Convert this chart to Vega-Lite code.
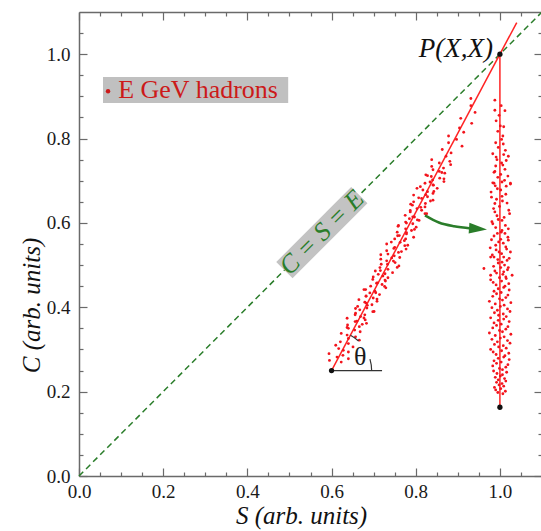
{
  "$schema": "https://vega.github.io/schema/vega-lite/v6.json",
  "width": 463,
  "height": 464,
  "autosize": "none",
  "padding": {"left": 79, "top": 12, "right": 0, "bottom": 55},
  "background": "white",
  "config": {
    "view": {"stroke": null},
    "axis": {
      "grid": false,
      "domainColor": "#6a6a6a",
      "domainWidth": 1.5,
      "tickColor": "#6a6a6a",
      "tickWidth": 1.2,
      "labelFont": "Liberation Serif",
      "labelFontSize": 19,
      "labelFontWeight": "normal",
      "labelColor": "#1a1a1a",
      "labelOverlap": false,
      "labelFlush": false,
      "titleFont": "Liberation Serif",
      "titleFontStyle": "italic",
      "titleFontWeight": "normal",
      "titleFontSize": 25,
      "titleColor": "#111111"
    }
  },
  "datasets": {
    "incl": [
      {"x":0.623,"y":0.270},{"x":0.595,"y":0.274},{"x":0.640,"y":0.278},{"x":0.613,"y":0.282},{"x":0.627,"y":0.286},{"x":0.594,"y":0.290},{"x":0.640,"y":0.294},{"x":0.628,"y":0.298},{"x":0.617,"y":0.302},{"x":0.651,"y":0.306},{"x":0.610,"y":0.310},{"x":0.640,"y":0.314},{"x":0.621,"y":0.318},{"x":0.666,"y":0.322},{"x":0.640,"y":0.326},{"x":0.657,"y":0.330},{"x":0.637,"y":0.334},{"x":0.623,"y":0.338},{"x":0.668,"y":0.342},{"x":0.655,"y":0.346},{"x":0.640,"y":0.350},{"x":0.666,"y":0.354},{"x":0.638,"y":0.358},{"x":0.683,"y":0.362},{"x":0.656,"y":0.366},{"x":0.680,"y":0.370},{"x":0.637,"y":0.374},{"x":0.669,"y":0.378},{"x":0.679,"y":0.382},{"x":0.657,"y":0.386},{"x":0.701,"y":0.390},{"x":0.667,"y":0.394},{"x":0.684,"y":0.398},{"x":0.662,"y":0.402},{"x":0.696,"y":0.406},{"x":0.682,"y":0.410},{"x":0.708,"y":0.414},{"x":0.665,"y":0.418},{"x":0.699,"y":0.422},{"x":0.682,"y":0.426},{"x":0.714,"y":0.430},{"x":0.691,"y":0.434},{"x":0.703,"y":0.438},{"x":0.681,"y":0.442},{"x":0.729,"y":0.446},{"x":0.693,"y":0.450},{"x":0.720,"y":0.454},{"x":0.709,"y":0.458},{"x":0.728,"y":0.462},{"x":0.698,"y":0.466},{"x":0.734,"y":0.470},{"x":0.722,"y":0.474},{"x":0.711,"y":0.478},{"x":0.745,"y":0.482},{"x":0.704,"y":0.486},{"x":0.734,"y":0.490},{"x":0.715,"y":0.494},{"x":0.760,"y":0.498},{"x":0.733,"y":0.502},{"x":0.751,"y":0.506},{"x":0.731,"y":0.510},{"x":0.717,"y":0.514},{"x":0.762,"y":0.518},{"x":0.749,"y":0.522},{"x":0.734,"y":0.526},{"x":0.759,"y":0.530},{"x":0.731,"y":0.534},{"x":0.777,"y":0.538},{"x":0.750,"y":0.542},{"x":0.774,"y":0.546},{"x":0.731,"y":0.550},{"x":0.763,"y":0.554},{"x":0.773,"y":0.558},{"x":0.750,"y":0.562},{"x":0.795,"y":0.566},{"x":0.761,"y":0.570},{"x":0.778,"y":0.574},{"x":0.756,"y":0.578},{"x":0.790,"y":0.582},{"x":0.776,"y":0.586},{"x":0.801,"y":0.590},{"x":0.759,"y":0.594},{"x":0.793,"y":0.598},{"x":0.776,"y":0.602},{"x":0.808,"y":0.606},{"x":0.785,"y":0.610},{"x":0.797,"y":0.614},{"x":0.775,"y":0.618},{"x":0.822,"y":0.622},{"x":0.787,"y":0.626},{"x":0.814,"y":0.630},{"x":0.803,"y":0.634},{"x":0.822,"y":0.638},{"x":0.792,"y":0.642},{"x":0.823,"y":0.646},{"x":0.795,"y":0.650},{"x":0.841,"y":0.654},{"x":0.814,"y":0.658},{"x":0.828,"y":0.662},{"x":0.795,"y":0.666},{"x":0.841,"y":0.670},{"x":0.828,"y":0.674},{"x":0.817,"y":0.678},{"x":0.851,"y":0.682},{"x":0.811,"y":0.686},{"x":0.841,"y":0.690},{"x":0.822,"y":0.694},{"x":0.867,"y":0.698},{"x":0.840,"y":0.702},{"x":0.857,"y":0.706},{"x":0.837,"y":0.710},{"x":0.824,"y":0.714},{"x":0.869,"y":0.718},{"x":0.856,"y":0.722},{"x":0.841,"y":0.726},{"x":0.866,"y":0.730},{"x":0.838,"y":0.734},{"x":0.883,"y":0.738},{"x":0.856,"y":0.742},{"x":0.881,"y":0.746},{"x":0.838,"y":0.750},{"x":0.872,"y":0.758},{"x":0.884,"y":0.766},{"x":0.863,"y":0.774},{"x":0.910,"y":0.782},{"x":0.878,"y":0.790},{"x":0.897,"y":0.798},{"x":0.878,"y":0.806},{"x":0.914,"y":0.815},{"x":0.904,"y":0.825},{"x":0.933,"y":0.836},{"x":0.907,"y":0.848},{"x":0.941,"y":0.862},{"x":0.931,"y":0.878},{"x":0.931,"y":0.895},
      {"x":0.637,"y":0.352},{"x":0.673,"y":0.3595},{"x":0.660,"y":0.367},{"x":0.677,"y":0.3745},{"x":0.656,"y":0.382},{"x":0.698,"y":0.3895},{"x":0.657,"y":0.397},{"x":0.685,"y":0.4045},{"x":0.679,"y":0.412},{"x":0.708,"y":0.4195},{"x":0.682,"y":0.427},{"x":0.705,"y":0.4345},{"x":0.677,"y":0.442},{"x":0.726,"y":0.4495},{"x":0.707,"y":0.457},{"x":0.727,"y":0.4645},{"x":0.699,"y":0.472},{"x":0.727,"y":0.4795},{"x":0.716,"y":0.487},{"x":0.756,"y":0.4945},{"x":0.718,"y":0.502},{"x":0.747,"y":0.5095},{"x":0.743,"y":0.517},{"x":0.717,"y":0.5245},{"x":0.766,"y":0.532},{"x":0.748,"y":0.5395},{"x":0.781,"y":0.547},{"x":0.742,"y":0.5545},{"x":0.776,"y":0.562},{"x":0.757,"y":0.5695},{"x":0.778,"y":0.577},{"x":0.797,"y":0.5845},{"x":0.758,"y":0.592},{"x":0.778,"y":0.5995},{"x":0.804,"y":0.607},{"x":0.793,"y":0.6145},{"x":0.826,"y":0.622},{"x":0.787,"y":0.6295},{"x":0.812,"y":0.637},{"x":0.788,"y":0.6445},{"x":0.835,"y":0.652},{"x":0.807,"y":0.6595},{"x":0.824,"y":0.667},{"x":0.843,"y":0.6745},{"x":0.803,"y":0.682},{"x":0.842,"y":0.6895},{"x":0.834,"y":0.697},{"x":0.867,"y":0.7045},{"x":0.828,"y":0.712},{"x":0.862,"y":0.7195}
    ],
    "vert": [
      {"x":0.988,"y":0.891},{"x":1.012,"y":0.866},{"x":0.988,"y":0.867},{"x":0.991,"y":0.842},{"x":1.009,"y":0.828},{"x":0.995,"y":0.817},{"x":1.007,"y":0.806},{"x":1.004,"y":0.798},{"x":0.990,"y":0.790},{"x":1.008,"y":0.787},{"x":0.996,"y":0.779},{"x":1.013,"y":0.772},{"x":0.983,"y":0.764},{"x":1.009,"y":0.762},{"x":0.991,"y":0.756},{"x":1.020,"y":0.758},{"x":0.990,"y":0.735},{"x":1.007,"y":0.737},{"x":0.988,"y":0.722},{"x":1.012,"y":0.727},{"x":1.002,"y":0.715},{"x":0.986,"y":0.694},{"x":1.025,"y":0.694},
      {"x":0.983,"y":0.695},{"x":1.005,"y":0.697},{"x":1.015,"y":0.687},{"x":1.025,"y":0.692},{"x":0.994,"y":0.681},{"x":0.980,"y":0.661},{"x":1.005,"y":0.663},{"x":0.988,"y":0.646},{"x":1.017,"y":0.647},{"x":0.999,"y":0.639},{"x":0.988,"y":0.626},{"x":1.023,"y":0.622},{"x":0.996,"y":0.608},{"x":1.005,"y":0.606},{"x":0.983,"y":0.598},{"x":1.020,"y":0.586},{"x":1.005,"y":0.582},{"x":0.994,"y":0.575},{"x":1.012,"y":0.575},{"x":0.980,"y":0.560},{"x":1.002,"y":0.561},{"x":1.020,"y":0.559},{"x":0.990,"y":0.547},{"x":1.014,"y":0.543},{"x":1.025,"y":0.531},{"x":0.998,"y":0.531},{"x":0.986,"y":0.519},{"x":1.009,"y":0.519},{"x":0.978,"y":0.519},{"x":1.005,"y":0.507},{"x":1.017,"y":0.511},{"x":0.996,"y":0.505},{"x":0.962,"y":0.492},{"x":1.002,"y":0.494},{"x":1.020,"y":0.494},{"x":0.988,"y":0.486},{"x":1.009,"y":0.484},{"x":0.978,"y":0.476},{"x":0.999,"y":0.470},{"x":1.029,"y":0.476},{"x":1.014,"y":0.472},
      {"x":1.007,"y":0.195},{"x":0.995,"y":0.198},{"x":1.013,"y":0.201},{"x":0.990,"y":0.204},{"x":1.002,"y":0.207},{"x":0.987,"y":0.210},{"x":1.009,"y":0.213},{"x":0.998,"y":0.216},{"x":1.005,"y":0.219},{"x":0.992,"y":0.222},{"x":1.014,"y":0.225},{"x":0.996,"y":0.228},{"x":1.011,"y":0.231},{"x":0.989,"y":0.234},{"x":1.001,"y":0.237},{"x":1.006,"y":0.240},{"x":0.993,"y":0.243},{"x":1.016,"y":0.246},{"x":0.985,"y":0.249},{"x":1.006,"y":0.252},{"x":0.999,"y":0.255},{"x":1.014,"y":0.258},{"x":0.983,"y":0.261},{"x":1.019,"y":0.264},{"x":0.992,"y":0.267},{"x":1.003,"y":0.270},{"x":0.986,"y":0.273},{"x":1.022,"y":0.276},{"x":0.996,"y":0.279},{"x":1.009,"y":0.282},{"x":1.012,"y":0.285},{"x":0.991,"y":0.288},{"x":1.021,"y":0.291},{"x":0.984,"y":0.294},{"x":1.004,"y":0.297},{"x":0.978,"y":0.300},{"x":1.015,"y":0.303},{"x":0.997,"y":0.306},{"x":1.008,"y":0.309},{"x":0.987,"y":0.312},{"x":1.024,"y":0.315},{"x":0.994,"y":0.318},{"x":1.018,"y":0.321},{"x":0.981,"y":0.324},{"x":1.001,"y":0.327},{"x":1.010,"y":0.330},{"x":0.989,"y":0.333},{"x":1.026,"y":0.336},{"x":0.975,"y":0.339},{"x":1.006,"y":0.342},{"x":0.999,"y":0.345},{"x":1.014,"y":0.348},{"x":0.983,"y":0.351},{"x":1.019,"y":0.354},{"x":0.992,"y":0.357},{"x":1.003,"y":0.360},{"x":0.986,"y":0.363},{"x":1.022,"y":0.366},{"x":0.996,"y":0.369},{"x":1.009,"y":0.372},{"x":0.978,"y":0.375},{"x":1.015,"y":0.378},{"x":0.997,"y":0.381},{"x":1.008,"y":0.384},{"x":0.987,"y":0.387},{"x":1.024,"y":0.390},{"x":0.994,"y":0.393},{"x":1.018,"y":0.396},{"x":0.981,"y":0.399},{"x":1.001,"y":0.402},{"x":1.010,"y":0.405},{"x":0.989,"y":0.408},{"x":1.026,"y":0.411},{"x":0.975,"y":0.414},{"x":1.006,"y":0.417},{"x":0.999,"y":0.420},{"x":1.014,"y":0.423},{"x":0.983,"y":0.426},{"x":1.019,"y":0.429},{"x":0.992,"y":0.432},{"x":1.003,"y":0.435},{"x":0.986,"y":0.438},{"x":1.022,"y":0.441},{"x":0.996,"y":0.444},{"x":1.009,"y":0.447},{"x":1.012,"y":0.450},{"x":0.991,"y":0.453},{"x":1.021,"y":0.456},{"x":0.984,"y":0.459},{"x":1.004,"y":0.462},{"x":0.978,"y":0.465},{"x":1.015,"y":0.468},
      {"x":1.007,"y":0.478},{"x":0.992,"y":0.481},{"x":1.018,"y":0.489},{"x":0.985,"y":0.497},{"x":1.011,"y":0.500},{"x":0.995,"y":0.513},{"x":1.022,"y":0.516},{"x":0.982,"y":0.524},{"x":1.004,"y":0.527},{"x":0.991,"y":0.536},{"x":1.016,"y":0.538},{"x":0.977,"y":0.541},{"x":1.008,"y":0.552},{"x":0.997,"y":0.555},{"x":1.019,"y":0.566},{"x":0.986,"y":0.569},{"x":1.003,"y":0.578},{"x":0.990,"y":0.589},{"x":1.013,"y":0.594},{"x":0.981,"y":0.603},{"x":1.010,"y":0.613},{"x":0.993,"y":0.617},{"x":1.021,"y":0.630},{"x":0.985,"y":0.634},{"x":1.006,"y":0.652},{"x":0.992,"y":0.656},{"x":1.014,"y":0.668},{"x":0.979,"y":0.673},{"x":1.002,"y":0.678},{"x":0.989,"y":0.688},{"x":1.011,"y":0.701},{"x":0.995,"y":0.708},{"x":1.019,"y":0.711},{"x":0.986,"y":0.720},{"x":1.004,"y":0.742},{"x":0.993,"y":0.750},{"x":1.015,"y":0.748},{"x":1.001,"y":0.830},{"x":0.998,"y":0.855},{"x":1.003,"y":0.878}
    ]
  },
  "layer": [
    {
      "encoding": {
        "x": {"field": "x", "type": "quantitative", "scale": {"domain": [0, 1.1], "nice": false, "zero": false},
          "axis": {"orient": "bottom", "title": "S (arb. units)",
            "values": [0,0.05,0.1,0.15,0.2,0.25,0.3,0.35,0.4,0.45,0.5,0.55,0.6,0.65,0.7,0.75,0.8,0.85,0.9,0.95,1,1.05],
            "labelExpr": "round(datum.value*100) % 20 == 0 ? format(datum.value, '.1f') : ''",
            "labelFont": "Liberation Serif", "labelFontSize": 19,
            "tickSize": {"condition": {"test": "round(datum.value*100) % 20 == 0", "value": -8}, "value": -4},
            "labelPadding": 14,
            "titleX": 222, "titleY": 47, "titleBaseline": "alphabetic", "titleAlign": "center"}},
        "y": {"field": "y", "type": "quantitative", "scale": {"domain": [0, 1.1], "nice": false, "zero": false},
          "axis": {"orient": "left", "title": "C (arb. units)",
            "values": [0,0.05,0.1,0.15,0.2,0.25,0.3,0.35,0.4,0.45,0.5,0.55,0.6,0.65,0.7,0.75,0.8,0.85,0.9,0.95,1,1.05],
            "labelExpr": "round(datum.value*100) % 20 == 0 ? format(datum.value, '.1f') : ''",
            "labelFont": "Liberation Serif", "labelFontSize": 19,
            "tickSize": {"condition": {"test": "round(datum.value*100) % 20 == 0", "value": -8}, "value": -4},
            "labelPadding": 17,
            "titleX": -40, "titleY": 293, "titleBaseline": "alphabetic", "titleAlign": "center", "titleAngle": 270}}
      },
      "layer": [
        {
          "data": {"values": [{"x": 0.057, "y": 0.884, "x2": 0.497, "y2": 0.946}]},
          "mark": {"type": "rect", "color": "#c0c0c0"},
          "encoding": {"x2": {"field": "x2"}, "y2": {"field": "y2"}}
        },
        {
          "data": {"values": [{"x": 0, "y": 0, "x2": 1.1, "y2": 1.1}]},
          "mark": {"type": "rule", "color": "#2a7d2a", "strokeWidth": 1.5, "strokeDash": [6, 4]},
          "encoding": {"x2": {"field": "x2"}, "y2": {"field": "y2"}}
        },
        {
          "data": {"values": [{"x": 0.488, "y": 0.488, "x2": 0.666, "y2": 0.666}]},
          "mark": {"type": "rule", "color": "#c3c3c3", "strokeWidth": 23, "strokeCap": "butt"},
          "encoding": {"x2": {"field": "x2"}, "y2": {"field": "y2"}}
        },
        {
          "data": {"values": [{"x": 0.577, "y": 0.577, "label": "C = S = E"}]},
          "mark": {"type": "text", "font": "Liberation Serif", "fontStyle": "italic", "fontSize": 26, "color": "#2a7d2a", "angle": 315, "align": "center", "baseline": "middle"},
          "encoding": {"text": {"field": "label"}}
        },
        {
          "data": {"values": [{"x": 0.6, "y": 0.25, "x2": 1.04, "y2": 1.075}, {"x": 1.0, "y": 0.163, "x2": 1.0, "y2": 1.0}]},
          "mark": {"type": "rule", "color": "#ff2424", "strokeWidth": 1.5},
          "encoding": {"x2": {"field": "x2"}, "y2": {"field": "y2"}}
        },
        {
          "data": {"name": "incl"},
          "mark": {"type": "point", "filled": true, "size": 8, "color": "#f2141c", "opacity": 1}
        },
        {
          "data": {"name": "vert"},
          "mark": {"type": "point", "filled": true, "size": 8, "color": "#f2141c", "opacity": 1}
        },
        {
          "data": {"values": [{"x": 0.6, "y": 0.25, "x2": 0.72, "y2": 0.25}]},
          "mark": {"type": "rule", "color": "#333333", "strokeWidth": 1.3},
          "encoding": {"x2": {"field": "x2"}, "y2": {"field": "y2"}}
        },
        {
          "data": {"values": [{"x": 0.6, "y": 0.25}]},
          "mark": {"type": "arc", "theta": 0.49, "theta2": 0.74, "innerRadius": 39.5, "outerRadius": 40.7, "color": "#333333"}
        },
        {
          "data": {"values": [{"x": 0.6, "y": 0.25}]},
          "mark": {"type": "arc", "theta": 1.28, "theta2": 1.57, "innerRadius": 39.5, "outerRadius": 40.7, "color": "#333333"}
        },
        {
          "data": {"values": [{"x": 0.668, "y": 0.283, "label": "θ"}]},
          "mark": {"type": "text", "font": "Liberation Serif", "fontSize": 26, "color": "#1a1a1a", "align": "center", "baseline": "middle"},
          "encoding": {"text": {"field": "label"}}
        },
        {
          "data": {"values": [{"x": 0.6, "y": 0.25}, {"x": 1.0, "y": 1.0}, {"x": 1.0, "y": 0.163}]},
          "mark": {"type": "point", "filled": true, "size": 28, "color": "#111111", "opacity": 1}
        },
        {
          "data": {"values": [{"x": 1.0, "y": 1.0, "label": "P(X,X)"}]},
          "mark": {"type": "text", "font": "Liberation Serif", "fontStyle": "italic", "fontSize": 27, "color": "#111111", "align": "right", "baseline": "middle", "dx": -7, "dy": -5},
          "encoding": {"text": {"field": "label"}}
        },
        {
          "data": {"values": [{"x": 0.822, "y": 0.618}, {"x": 0.855, "y": 0.601}, {"x": 0.891, "y": 0.592}, {"x": 0.931, "y": 0.587}]},
          "mark": {"type": "line", "color": "#2a7d2a", "strokeWidth": 2.5, "interpolate": "monotone"}
        },
        {
          "data": {"values": [{"x": 0.948, "y": 0.586}]},
          "mark": {"type": "point", "filled": true, "opacity": 1, "color": "#2a7d2a", "size": 324, "shape": "M-1,-0.6L1,0L-1,0.6Z", "angle": 4}
        },
        {
          "data": {"values": [{"x": 0.069, "y": 0.912}]},
          "mark": {"type": "point", "filled": true, "opacity": 1, "size": 20, "color": "#cc1a1a"}
        },
        {
          "data": {"values": [{"x": 0.093, "y": 0.914, "label": "E GeV hadrons"}]},
          "mark": {"type": "text", "font": "Liberation Serif", "fontSize": 26, "color": "#cc1a1a", "align": "left", "baseline": "middle"},
          "encoding": {"text": {"field": "label"}}
        }
      ]
    },
    {
      "data": {"values": [{"x": 0, "y": 0}]},
      "mark": {"type": "point", "opacity": 0},
      "encoding": {
        "x": {"field": "x", "type": "quantitative", "scale": {"domain": [0, 1.1], "nice": false, "zero": false},
          "axis": {"orient": "top", "title": null, "labels": false,
            "values": [0,0.05,0.1,0.15,0.2,0.25,0.3,0.35,0.4,0.45,0.5,0.55,0.6,0.65,0.7,0.75,0.8,0.85,0.9,0.95,1,1.05],
            "tickSize": {"condition": {"test": "round(datum.value*100) % 20 == 0", "value": -8}, "value": -4}}},
        "y": {"field": "y", "type": "quantitative", "scale": {"domain": [0, 1.1], "nice": false, "zero": false},
          "axis": {"orient": "right", "title": null, "labels": false,
            "values": [0,0.05,0.1,0.15,0.2,0.25,0.3,0.35,0.4,0.45,0.5,0.55,0.6,0.65,0.7,0.75,0.8,0.85,0.9,0.95,1,1.05],
            "tickSize": {"condition": {"test": "round(datum.value*100) % 20 == 0", "value": -8}, "value": -4}}}
      }
    }
  ],
  "resolve": {"axis": {"x": "independent", "y": "independent"}}
}
